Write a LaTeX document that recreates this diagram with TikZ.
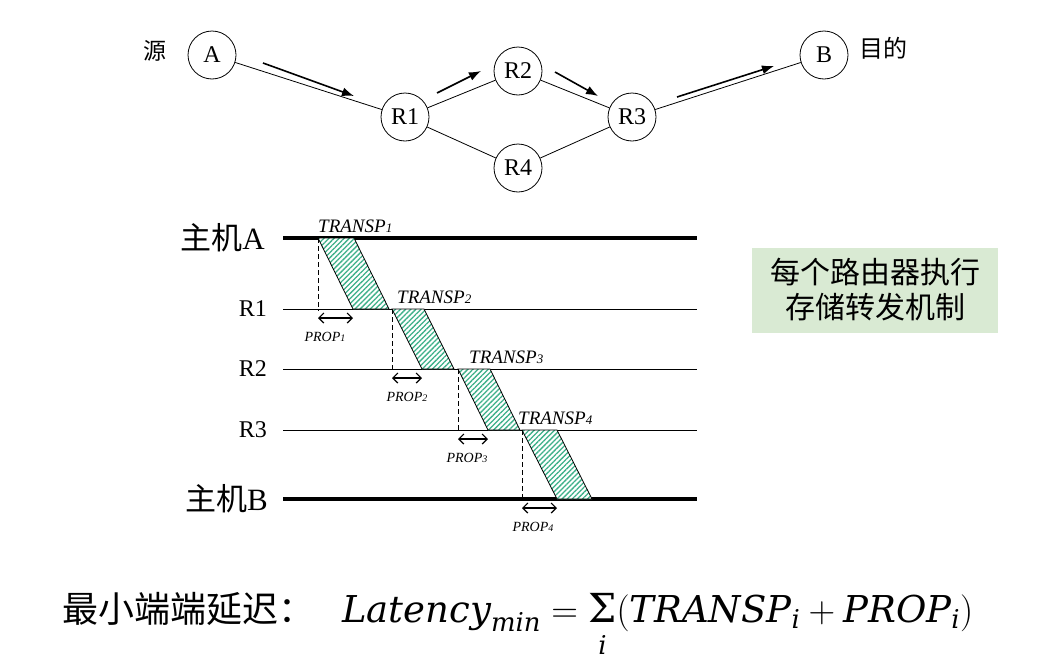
\RequirePackage{fix-cm}
\documentclass[tikz,border=0pt]{standalone}
\usepackage{amsmath}
\usepackage{fontspec}
\setmainfont{Liberation Serif}
\newfontfamily\cjk{Noto Sans CJK SC}
\newfontfamily\mathfnt{DejaVu Serif}
\newcommand{\mv}[1]{\text{\mathfnt\itshape #1}}
\newcommand{\sumsign}{\mathop{\text{\mathfnt\fontsize{40}{42}\selectfont Σ\rule[-9pt]{0pt}{9pt}}}}
\usetikzlibrary{positioning, arrows.meta, patterns.meta}
\definecolor{hatchgreen}{HTML}{3DB089}
\definecolor{notegreen}{HTML}{D9EAD3}

\begin{document}
\begin{tikzpicture}[x=1pt, y=-1pt, node distance=14pt]
    \tikzstyle{router} = [circle, draw, line width=0.8pt, minimum size=48pt, inner sep=0pt, font=\fontsize{24}{26}\selectfont]
    \tikzstyle{link} = [line width=0.8pt]
    \tikzstyle{flow} = [line width=1.6pt, -{Latex[length=12pt,width=9pt]}]
    \tikzstyle{host} = [line width=4pt]
    \tikzstyle{hop} = [line width=0.8pt]
    \tikzstyle{packet} = [draw, line width=0.8pt, preaction={fill=white}, pattern={Lines[angle=45, distance=3.6pt, line width=1.3pt]}, pattern color=hatchgreen]
    \tikzstyle{guide} = [line width=0.8pt, dash pattern=on 5pt off 3pt]
    \tikzstyle{span} = [line width=1.2pt, {Straight Barb[length=5pt,width=10pt]}-{Straight Barb[length=5pt,width=10pt]}]
    \tikzstyle{tlabel} = [inner sep=1pt, font=\fontsize{19}{21}\selectfont\itshape]
    \tikzstyle{plabel} = [inner sep=1pt, font=\fontsize{14}{16}\selectfont\itshape]
    \tikzstyle{axis} = [inner sep=0pt, font=\fontsize{24}{26}\selectfont]
    \tikzstyle{note} = [fill=notegreen, minimum width=246pt, minimum height=85pt, align=center, font=\cjk\fontsize{30}{35}\selectfont]

    \useasboundingbox (0,0) rectangle (1060,664);

    % network
    \node [router] (A) at (212,55) {A};
    \node [router] (R1) at (405,117) {R1};
    \node [router] (R2) at (518,71) {R2};
    \node [router] (R3) at (632,117) {R3};
    \node [router] (R4) at (518,168) {R4};
    \node [router] (B) at (824,55) {B};
    \node [left=18pt of A, yshift=4pt, font=\cjk\fontsize{23}{25}\selectfont] (src) {源};
    \node [right=8pt of B, yshift=7pt, font=\cjk\fontsize{24}{26}\selectfont] (dst) {目的};

    \draw [link] (A) -- (R1);
    \draw [link] (R1) -- (R2);
    \draw [link] (R1) -- (R4);
    \draw [link] (R2) -- (R3);
    \draw [link] (R4) -- (R3);
    \draw [link] (R3) -- (B);

    \coordinate (f1) at (263,63);  \coordinate (f2) at (354,96);
    \coordinate (f3) at (437,93);  \coordinate (f4) at (481,71);
    \coordinate (f5) at (555,72);  \coordinate (f6) at (598,96);
    \coordinate (f7) at (677,97);  \coordinate (f8) at (774,66);
    \draw [flow] (f1) -- (f2);
    \draw [flow] (f3) -- (f4);
    \draw [flow] (f5) -- (f6);
    \draw [flow] (f7) -- (f8);

    % timeline
    \coordinate (hA) at (283,238);
    \coordinate (hB) at (283,499);
    \draw [host] (hA) -- ++(414,0);
    \draw [host] (hB) -- ++(414,0);
    \node [axis, left=18pt of hA, font=\fontsize{31}{33}\selectfont] (labA) {{\cjk 主机}A};
    \node [axis, left=15pt of hB, font=\fontsize{31}{33}\selectfont] (labB) {{\cjk 主机}B};
    \foreach \n/\y in {R1/309, R2/369, R3/430} {
        \coordinate (h\n) at (283,\y);
        \draw [hop] (h\n) -- ++(414,0);
        \node [axis, left=16pt of h\n] (lab\n) {\n};
    }

    \foreach \i/\x/\ya/\yb/\w/\d/\tx/\px in {1/318/238/309/36/35/317/325, 2/392/309/369/32/30/396/407, 3/458/369/430/32/30/468/467, 4/522/430/499/35/35/517/533} {
        \draw [packet] (\x,\ya) -- ++(\w,0) -- ++(\d,\yb-\ya) -- ++(-\w,0) -- cycle;
        \draw [guide] (\x,\ya) -- (\x,\yb+2);
        \coordinate (s\i) at (\x,\yb+9);
        \draw [span] (s\i) -- ++(\d,0);
        \node [plabel] (p\i) at (\px,\yb+28) {PROP{\fontsize{10}{11}\selectfont\i}};
        \node [tlabel, anchor=base west] (t\i) at (\tx,\ya-6) {TRANSP{\fontsize{13}{14}\selectfont\i}};
    }

    % note and formula
    \node [note] (store) at (875,290) {每个路由器执行\\存储转发机制};
    \node [anchor=base west, inner sep=0pt, font=\fontsize{36}{40}\selectfont] (latency) at (62,622)
        {{\cjk 最小端端延迟：}\hspace{28pt}{\fontsize{37}{40}\selectfont$\mv{Latency}_{\mv{min}} = \sumsign\limits_{\mv{i}}(\mv{TRANSP}_{\mv{i}} + \mv{PROP}_{\mv{i}})$}};
\end{tikzpicture}
\end{document}
